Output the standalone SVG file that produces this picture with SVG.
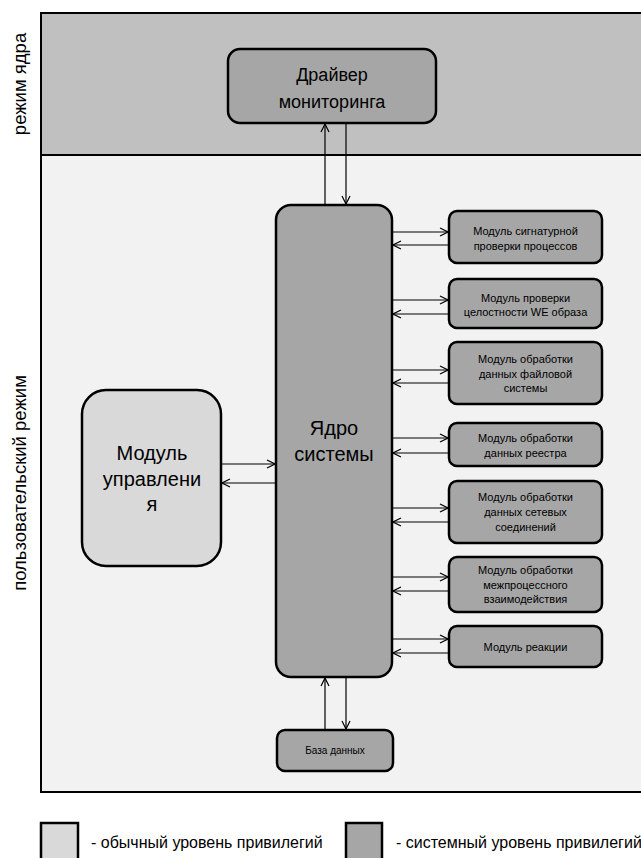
<svg xmlns="http://www.w3.org/2000/svg" width="641" height="858" viewBox="0 0 641 858">
<defs>
<style>
text{font-family:"Liberation Sans",Arial,sans-serif;fill:#000;text-anchor:middle}
.sys{fill:#a6a6a6;stroke:#000;stroke-width:2.5}
.usr{fill:#d9d9d9;stroke:#000;stroke-width:2.5}
.c{fill:none;stroke:#000;stroke-width:1.2;marker-end:url(#ah)}
.m{font-size:11px}
.side{font-size:18.5px}
</style>
<marker id="ah" viewBox="0 0 10 10" refX="10" refY="5" markerWidth="10" markerHeight="10" markerUnits="userSpaceOnUse" orient="auto">
<path d="M2,1 L10,5 L2,9" fill="none" stroke="#000" stroke-width="1.2"/>
</marker>
</defs>
<rect width="641" height="858" fill="#fff"/>
<g id="frame">
<rect x="41" y="13" width="610" height="142" fill="#c0c0c0" stroke="#000" stroke-width="2"/>
<rect x="41" y="155" width="610" height="637" fill="#f2f2f2" stroke="#000" stroke-width="2"/>
<text class="side" transform="translate(26,84) rotate(-90)">режим ядра</text>
<text class="side" transform="translate(26,483) rotate(-90)">пользовательский режим</text>
</g>
<g id="connectors">
<line class="c" x1="325" y1="205" x2="325" y2="124"/>
<line class="c" x1="346" y1="123" x2="346" y2="204"/>
<line class="c" x1="325" y1="730" x2="325" y2="678"/>
<line class="c" x1="346" y1="677" x2="346" y2="729"/>
<line class="c" x1="221" y1="464" x2="275" y2="464"/>
<line class="c" x1="276" y1="483" x2="222" y2="483"/>
<line class="c" x1="392" y1="232" x2="448" y2="232"/>
<line class="c" x1="449" y1="245" x2="393" y2="245"/>
<line class="c" x1="392" y1="300" x2="448" y2="300"/>
<line class="c" x1="449" y1="314" x2="393" y2="314"/>
<line class="c" x1="392" y1="370" x2="448" y2="370"/>
<line class="c" x1="449" y1="383" x2="393" y2="383"/>
<line class="c" x1="392" y1="438" x2="448" y2="438"/>
<line class="c" x1="449" y1="453" x2="393" y2="453"/>
<line class="c" x1="392" y1="508" x2="448" y2="508"/>
<line class="c" x1="449" y1="522" x2="393" y2="522"/>
<line class="c" x1="392" y1="577" x2="448" y2="577"/>
<line class="c" x1="449" y1="591" x2="393" y2="591"/>
<line class="c" x1="392" y1="639" x2="448" y2="639"/>
<line class="c" x1="449" y1="653" x2="393" y2="653"/>
</g>
<g id="driver">
<rect class="sys" x="228" y="49" width="208" height="74" rx="12"/>
<text x="332" y="81" style="font-size:18px">Драйвер</text>
<text x="332" y="108" style="font-size:18px">мониторинга</text>
</g>
<g id="core">
<rect class="sys" x="276" y="205" width="116" height="472" rx="15"/>
<text x="334" y="435" style="font-size:20px">Ядро</text>
<text x="334" y="461" style="font-size:20px">системы</text>
</g>
<g id="control">
<rect class="usr" x="82" y="390" width="139" height="176" rx="24"/>
<text x="152" y="460" style="font-size:20px">Модуль</text>
<text x="152" y="486" style="font-size:20px">управлени</text>
<text x="152" y="511" style="font-size:20px">я</text>
</g>
<g id="m1">
<rect class="sys" x="449" y="211" width="153" height="52" rx="8"/>
<text class="m" x="525.5" y="235">Модуль сигнатурной</text>
<text class="m" x="525.5" y="250">проверки процессов</text>
</g>
<g id="m2">
<rect class="sys" x="449" y="279" width="153" height="49" rx="8"/>
<text class="m" x="525.5" y="302">Модуль проверки</text>
<text class="m" x="525.5" y="316">целостности WE образа</text>
</g>
<g id="m3">
<rect class="sys" x="449" y="342" width="153" height="62" rx="8"/>
<text class="m" x="525.5" y="363">Модуль обработки</text>
<text class="m" x="525.5" y="378">данных файловой</text>
<text class="m" x="525.5" y="392">системы</text>
</g>
<g id="m4">
<rect class="sys" x="449" y="423" width="153" height="43" rx="8"/>
<text class="m" x="525.5" y="442">Модуль обработки</text>
<text class="m" x="525.5" y="457">данных реестра</text>
</g>
<g id="m5">
<rect class="sys" x="449" y="481" width="153" height="62" rx="8"/>
<text class="m" x="525.5" y="501">Модуль обработки</text>
<text class="m" x="525.5" y="516">данных сетевых</text>
<text class="m" x="525.5" y="531">соединений</text>
</g>
<g id="m6">
<rect class="sys" x="449" y="557" width="153" height="55" rx="8"/>
<text class="m" x="525.5" y="574">Модуль обработки</text>
<text class="m" x="525.5" y="589">межпроцессного</text>
<text class="m" x="525.5" y="603">взаимодействия</text>
</g>
<g id="m7">
<rect class="sys" x="449" y="626" width="153" height="41" rx="8"/>
<text class="m" x="525.5" y="651">Модуль реакции</text>
</g>
<g id="db">
<rect class="sys" x="277" y="730" width="116" height="41" rx="8"/>
<text x="335" y="754" style="font-size:10px">База данных</text>
</g>
<g id="legend">
<rect class="usr" x="41" y="823" width="37" height="40" stroke-width="2"/>
<text x="91" y="848" style="font-size:16px;text-anchor:start">- обычный уровень привилегий</text>
<rect class="sys" x="346" y="823" width="36" height="40" stroke-width="2"/>
<text x="396" y="848" style="font-size:16px;text-anchor:start">- системный уровень привилегий</text>
</g>
</svg>
